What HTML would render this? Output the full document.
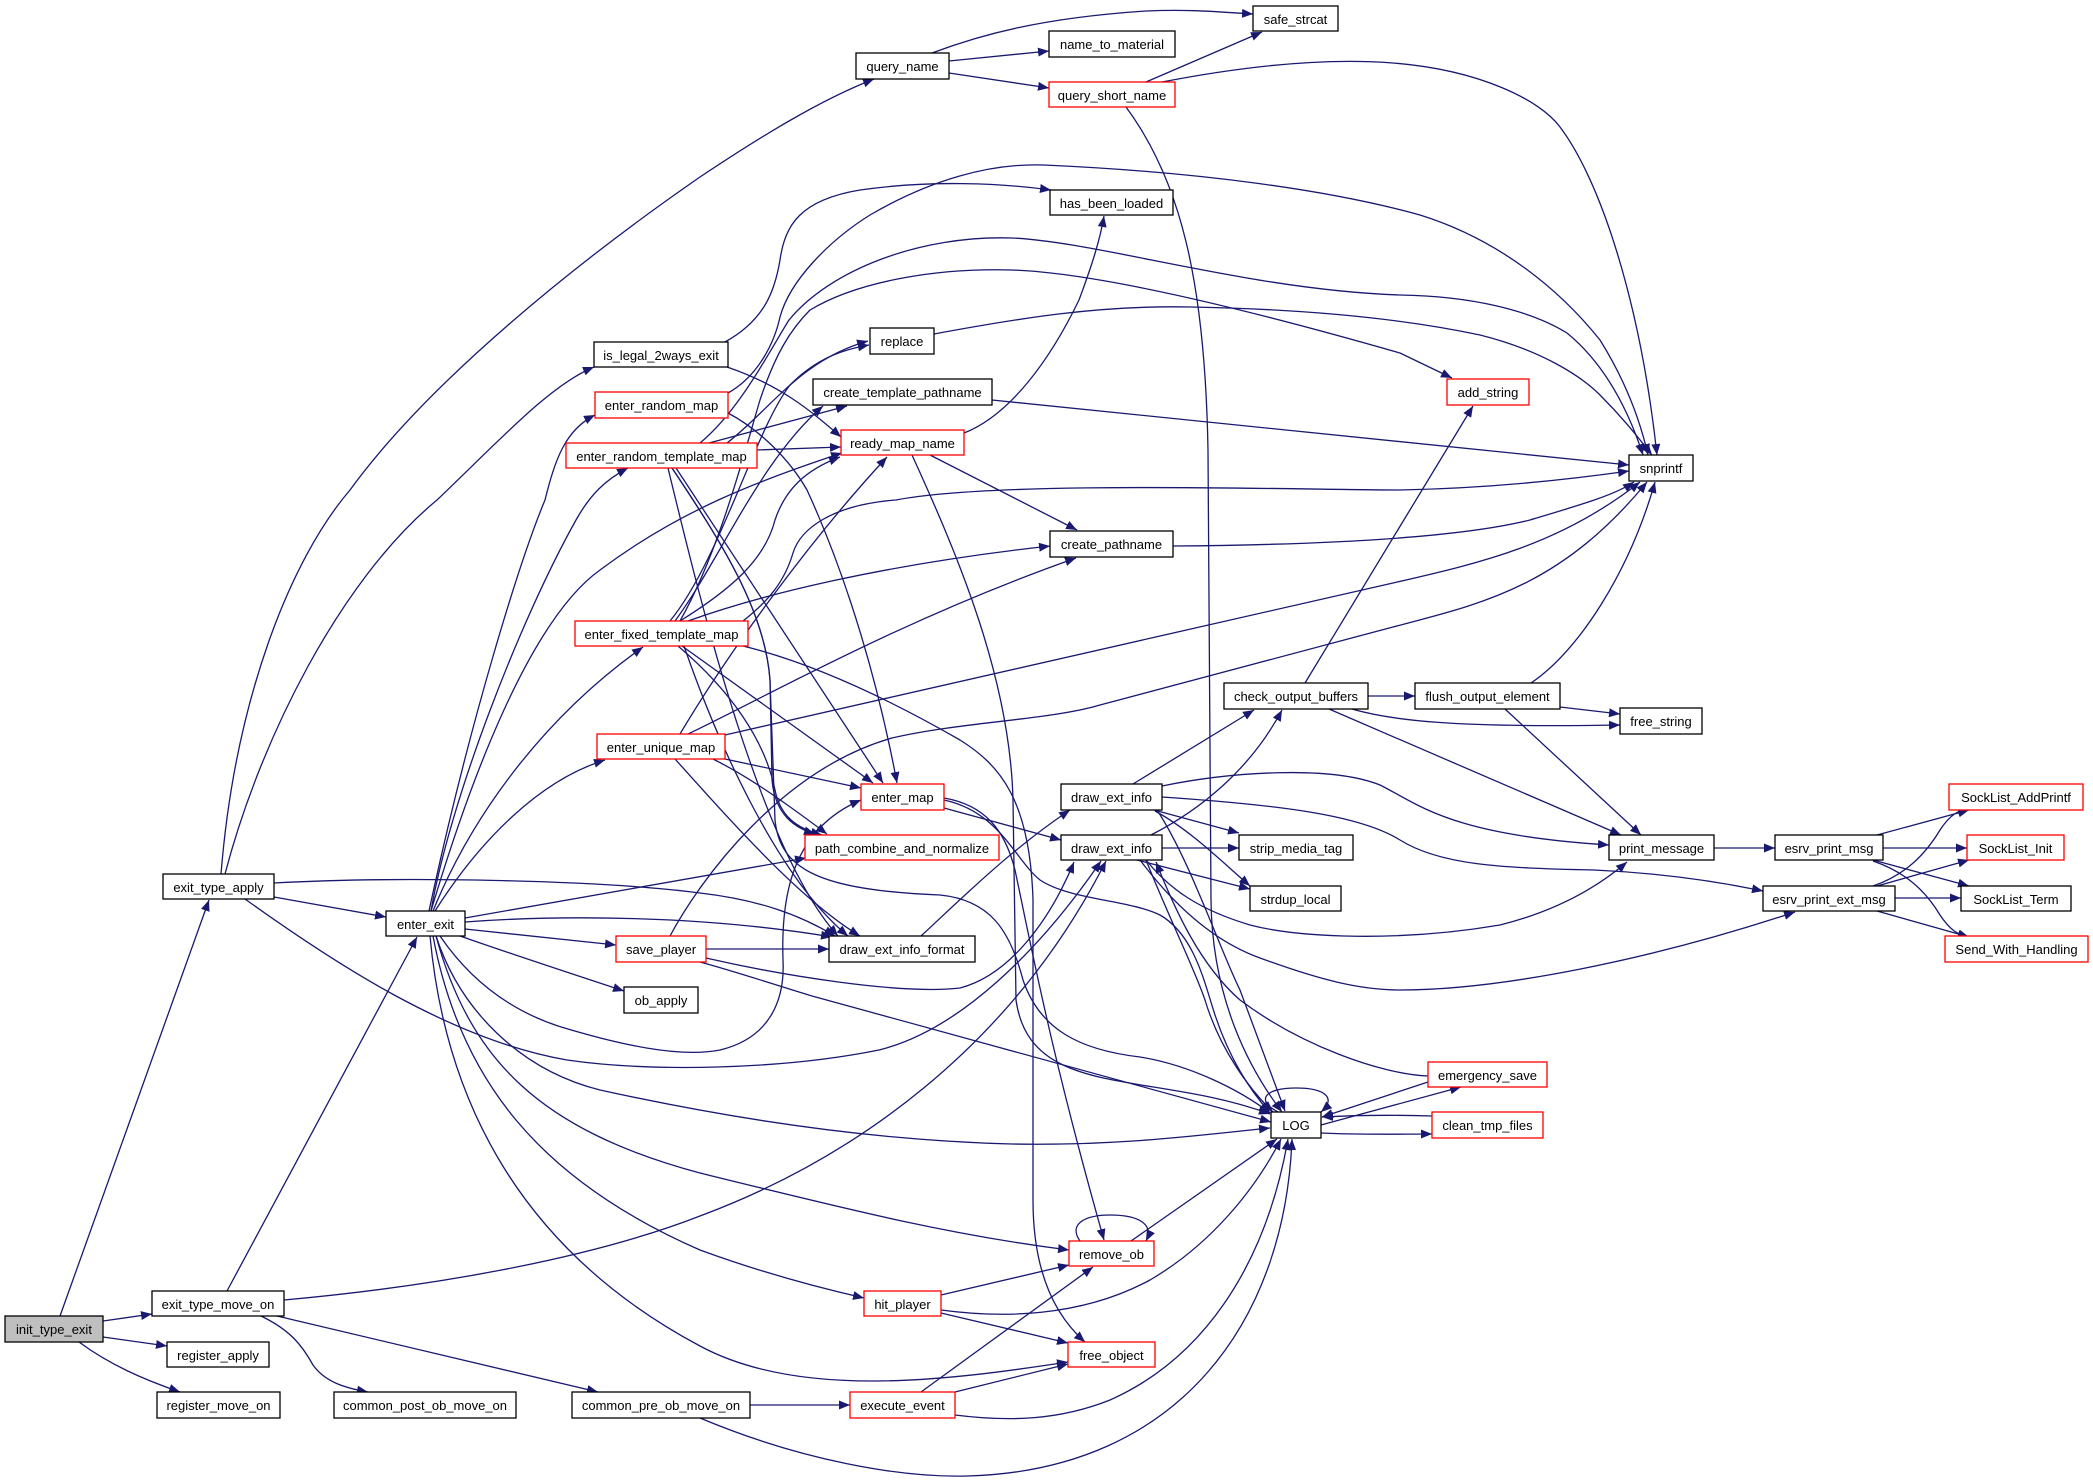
<!DOCTYPE html>
<html>
<head>
<meta charset="utf-8">
<style>
html,body{margin:0;padding:0;background:#fff;}
svg{display:block;}
text{font-family:"Liberation Sans",Arial,sans-serif;font-size:13px;fill:#000;text-anchor:middle;}
.e{fill:none;stroke:#191970;stroke-width:1.3;}
.n{fill:#fff;stroke:#000;stroke-width:1.3;}
.r{fill:#fff;stroke:#ff0000;stroke-width:1.3;}
</style>
</head>
<body>
<svg width="2093" height="1483" viewBox="0 0 2093 1483" xmlns="http://www.w3.org/2000/svg">
<defs>
<marker id="a" markerUnits="userSpaceOnUse" markerWidth="12" markerHeight="9" refX="11" refY="4.5" orient="auto">
<path d="M0,0 L11,4.5 L0,9 z" fill="#191970"/>
</marker>
</defs>
<g marker-end="url(#a)">
<path class="e" d="M60,1316 L209,900"/>
<path class="e" d="M103,1321 L152,1314"/>
<path class="e" d="M103,1337 L167,1346"/>
<path class="e" d="M79,1342 C110,1365 145,1380 180,1392"/>
<path class="e" d="M227,1291 L417,937"/>
<path class="e" d="M284,1300 C450,1285 600,1255 700,1216 C850,1160 1010,1050 1106,861"/>
<path class="e" d="M261,1316 C290,1330 302,1345 313,1365 C325,1382 345,1388 368,1392"/>
<path class="e" d="M277,1316 L598,1392"/>
<path class="e" d="M750,1405 L850,1405"/>
<path class="e" d="M700,1418 C800,1460 900,1478 968,1476 C1180,1470 1285,1320 1292,1139"/>
<path class="e" d="M955,1392 L1068,1364"/>
<path class="e" d="M921,1392 L1093,1267"/>
<path class="e" d="M955,1415 C1010,1422 1060,1420 1110,1400 C1200,1360 1265,1270 1288,1139"/>
<path class="e" d="M941,1295 L1069,1265"/>
<path class="e" d="M941,1313 L1068,1343"/>
<path class="e" d="M941,1310 C1000,1318 1080,1318 1150,1280 C1210,1245 1255,1190 1281,1139"/>
<path class="e" d="M1080,1241 C1068,1224 1085,1215 1110,1215 C1140,1215 1154,1225 1146,1241"/>
<path class="e" d="M1131,1241 L1277,1139"/>
<path class="e" d="M1278,1112 C1255,1100 1265,1088 1296,1088 C1325,1088 1337,1098 1321,1112"/>
<path class="e" d="M1321,1125 L1461,1087"/>
<path class="e" d="M1428,1082 L1322,1117"/>
<path class="e" d="M1321,1133 C1360,1135 1400,1134 1432,1134"/>
<path class="e" d="M1432,1116 C1400,1115 1360,1115 1322,1117"/>
<path class="e" d="M1428,1076 C1380,1074 1300,1045 1240,1000 C1200,965 1175,910 1156,862"/>
<path class="e" d="M460,936 C500,950 560,970 624,991"/>
<path class="e" d="M274,897 L386,917"/>
<path class="e" d="M221,874 C235,700 290,560 350,490 C430,380 580,260 700,177 C760,137 820,100 874,79"/>
<path class="e" d="M225,874 C260,740 340,580 437,500 C500,440 550,385 594,367"/>
<path class="e" d="M274,883 C400,876 600,880 700,893 C760,900 800,915 835,936"/>
<path class="e" d="M245,899 C330,960 450,1040 567,1060 C650,1072 780,1070 879,1050 C960,1030 1040,950 1101,861"/>
<path class="e" d="M429,911 C470,720 520,560 545,500 C555,460 565,430 595,415"/>
<path class="e" d="M431,911 C450,800 520,620 576,520 C590,495 605,480 628,468"/>
<path class="e" d="M433,911 C470,820 540,720 643,647"/>
<path class="e" d="M435,911 C480,840 540,780 605,760"/>
<path class="e" d="M431,911 C470,780 530,620 600,570 C680,510 760,480 842,453"/>
<path class="e" d="M465,918 L806,858"/>
<path class="e" d="M465,922 C560,915 700,915 832,937"/>
<path class="e" d="M465,929 L616,945"/>
<path class="e" d="M440,936 C470,980 510,1010 558,1026 C620,1045 680,1058 720,1050 C770,1038 785,1000 783,960 C781,900 790,830 861,800"/>
<path class="e" d="M436,936 C460,1010 520,1070 600,1090 C700,1112 850,1140 1012,1144 C1120,1146 1200,1135 1270,1128"/>
<path class="e" d="M436,936 C470,1060 540,1130 700,1173 C850,1210 950,1235 1069,1250"/>
<path class="e" d="M433,936 C460,1080 540,1180 700,1250 C760,1272 820,1288 864,1298"/>
<path class="e" d="M430,936 C445,1100 520,1250 700,1346 C800,1400 950,1380 1068,1362"/>
<path class="e" d="M725,342 C765,320 775,290 780,260 C785,225 800,200 860,190 C930,180 1000,183 1051,190"/>
<path class="e" d="M727,367 C780,385 810,410 841,437"/>
<path class="e" d="M728,393 C760,375 775,340 780,317 C790,280 830,240 870,215 C930,180 990,163 1044,165 C1200,172 1330,190 1420,215 C1500,240 1560,290 1600,340 C1625,380 1640,420 1648,455"/>
<path class="e" d="M700,443 C740,410 770,350 789,320 C830,270 920,235 1012,238 C1100,242 1250,290 1400,295 C1470,296 1530,310 1567,333 C1600,360 1625,400 1643,455"/>
<path class="e" d="M680,621 C720,550 745,450 760,400 C775,355 790,330 810,310 C860,280 940,268 1012,270 C1100,273 1250,310 1400,353 L1452,378"/>
<path class="e" d="M934,334 C1020,318 1100,305 1191,307 C1300,309 1400,318 1480,335 C1540,350 1580,375 1600,395 C1625,420 1640,440 1652,455"/>
<path class="e" d="M992,400 L1629,465"/>
<path class="e" d="M743,621 C770,600 785,580 793,553 C800,530 830,505 896,500 C1000,480 1300,490 1400,490 C1500,488 1580,478 1629,471"/>
<path class="e" d="M725,735 L1393,583 C1480,563 1560,545 1640,482"/>
<path class="e" d="M670,936 C700,880 780,770 892,738 C960,722 1050,720 1100,705 L1393,627 C1480,604 1560,588 1647,482"/>
<path class="e" d="M1173,546 C1300,545 1450,540 1530,520 C1580,505 1615,495 1634,482"/>
<path class="e" d="M1531,683 C1580,650 1630,570 1655,482"/>
<path class="e" d="M1162,82 C1250,65 1330,58 1393,63 C1480,70 1540,100 1560,127 C1600,180 1640,300 1657,455"/>
<path class="e" d="M932,53 C980,35 1040,18 1146,11 C1190,9 1220,12 1253,14"/>
<path class="e" d="M949,61 L1049,51"/>
<path class="e" d="M949,73 L1049,88"/>
<path class="e" d="M1146,82 L1262,32"/>
<path class="e" d="M1126,107 C1180,180 1205,280 1208,450 L1211,900 C1212,1000 1250,1070 1282,1112"/>
<path class="e" d="M964,433 C1010,415 1050,360 1079,300 C1092,265 1100,240 1104,216"/>
<path class="e" d="M930,455 L1077,530"/>
<path class="e" d="M912,455 C960,560 1010,680 1013,800 L1016,1000 C1030,1100 1150,1070 1270,1114"/>
<path class="e" d="M727,443 C770,410 800,360 868,341"/>
<path class="e" d="M670,621 C720,560 755,430 790,385 C815,360 840,350 869,345"/>
<path class="e" d="M709,443 L847,406"/>
<path class="e" d="M675,621 C720,560 760,460 823,406"/>
<path class="e" d="M757,450 L841,447"/>
<path class="e" d="M680,621 C730,590 765,560 775,520 C785,490 805,470 840,457"/>
<path class="e" d="M680,734 C730,650 810,540 887,457"/>
<path class="e" d="M728,413 C760,430 790,460 807,490 C830,540 870,640 897,783"/>
<path class="e" d="M676,468 L883,783"/>
<path class="e" d="M682,646 L873,783"/>
<path class="e" d="M725,759 L861,788"/>
<path class="e" d="M672,468 C720,540 765,610 770,680 L772,780 C775,815 795,828 815,834"/>
<path class="e" d="M678,646 C730,690 765,740 775,790 C780,815 795,828 822,835"/>
<path class="e" d="M713,759 C745,775 775,795 827,834"/>
<path class="e" d="M684,646 C720,750 780,880 848,936"/>
<path class="e" d="M675,759 C730,820 800,900 860,936"/>
<path class="e" d="M668,468 C700,600 760,850 838,936"/>
<path class="e" d="M688,621 C760,595 880,565 1050,546"/>
<path class="e" d="M688,734 C760,700 900,620 1076,558"/>
<path class="e" d="M743,646 C800,660 873,690 960,740 C1000,765 1030,800 1033,900 L1033,1200 C1033,1280 1060,1320 1085,1342"/>
<path class="e" d="M944,798 C985,805 1005,830 1015,870 C1030,940 1050,1050 1104,1240"/>
<path class="e" d="M944,800 C1000,812 1015,860 1040,880 C1070,900 1130,900 1160,915 C1195,935 1205,985 1215,1015 C1230,1060 1250,1090 1270,1113"/>
<path class="e" d="M672,468 C720,540 765,610 770,680 L775,820 C780,870 820,890 940,895 C990,900 1010,930 1023,980 C1040,1030 1080,1050 1140,1057 C1190,1065 1240,1090 1270,1113"/>
<path class="e" d="M944,808 L1061,840"/>
<path class="e" d="M921,936 C960,900 1010,850 1070,810"/>
<path class="e" d="M706,949 L829,949"/>
<path class="e" d="M700,962 C730,970 760,980 812,996 L1271,1122"/>
<path class="e" d="M706,958 C780,975 900,995 960,988 C1010,975 1050,920 1074,862"/>
<path class="e" d="M1133,784 L1254,710"/>
<path class="e" d="M1154,810 L1239,833"/>
<path class="e" d="M1155,811 C1190,830 1220,860 1250,886"/>
<path class="e" d="M1157,810 C1190,860 1220,950 1240,990 L1285,1111"/>
<path class="e" d="M1162,786 C1230,772 1330,765 1380,785 C1420,805 1450,835 1609,845"/>
<path class="e" d="M1162,797 C1280,805 1360,815 1400,840 C1440,865 1500,868 1594,870 C1660,873 1720,882 1763,891"/>
<path class="e" d="M1162,848 L1239,848"/>
<path class="e" d="M1151,835 C1200,810 1250,770 1282,710"/>
<path class="e" d="M1137,860 L1250,889"/>
<path class="e" d="M1146,860 C1170,890 1200,910 1250,925 C1300,938 1400,942 1500,925 C1560,910 1600,885 1627,862"/>
<path class="e" d="M1140,860 C1170,900 1210,940 1260,958 C1320,980 1360,990 1400,990 C1500,990 1650,960 1795,912"/>
<path class="e" d="M1146,860 C1170,920 1195,970 1205,1000 C1220,1050 1250,1090 1273,1112"/>
<path class="e" d="M1368,696 L1415,696"/>
<path class="e" d="M1305,683 L1473,406"/>
<path class="e" d="M1352,709 C1390,720 1450,728 1620,725"/>
<path class="e" d="M1329,709 L1621,835"/>
<path class="e" d="M1560,707 L1620,714"/>
<path class="e" d="M1505,709 L1641,835"/>
<path class="e" d="M1714,848 L1775,848"/>
<path class="e" d="M1877,835 L1969,810"/>
<path class="e" d="M1883,848 L1967,848"/>
<path class="e" d="M1873,860 L1969,886"/>
<path class="e" d="M1873,861 C1905,872 1925,890 1940,915 C1950,930 1958,935 1969,937"/>
<path class="e" d="M1873,886 C1905,875 1925,855 1940,830 C1950,815 1958,810 1969,809"/>
<path class="e" d="M1877,886 L1969,860"/>
<path class="e" d="M1895,898 L1961,898"/>
<path class="e" d="M1877,911 L1969,937"/>
</g>

<!-- nodes -->
<rect x="5" y="1316" width="98" height="26" fill="#bfbfbf" stroke="#000" stroke-width="1.3"/><text x="54" y="1334">init_type_exit</text>
<rect class="n" x="163" y="874" width="111" height="25"/><text x="218.5" y="892">exit_type_apply</text>
<rect class="n" x="152" y="1291" width="132" height="25"/><text x="218" y="1309">exit_type_move_on</text>
<rect class="n" x="167" y="1342" width="102" height="25"/><text x="218" y="1360">register_apply</text>
<rect class="n" x="157" y="1392" width="123" height="26"/><text x="218.5" y="1410">register_move_on</text>
<rect class="n" x="334" y="1392" width="182" height="26"/><text x="425" y="1410">common_post_ob_move_on</text>
<rect class="n" x="572" y="1392" width="178" height="26"/><text x="661" y="1410">common_pre_ob_move_on</text>
<rect class="n" x="386" y="911" width="79" height="25"/><text x="425.5" y="929">enter_exit</text>
<rect class="n" x="594" y="342" width="134" height="25"/><text x="661" y="360">is_legal_2ways_exit</text>
<rect class="r" x="595" y="392" width="133" height="26"/><text x="661.5" y="410">enter_random_map</text>
<rect class="r" x="566" y="443" width="191" height="25"/><text x="661.5" y="461">enter_random_template_map</text>
<rect class="r" x="575" y="621" width="173" height="25"/><text x="661.5" y="639">enter_fixed_template_map</text>
<rect class="r" x="597" y="734" width="128" height="25"/><text x="661" y="752">enter_unique_map</text>
<rect class="r" x="616" y="936" width="90" height="26"/><text x="661" y="954">save_player</text>
<rect class="n" x="624" y="987" width="74" height="26"/><text x="661" y="1005">ob_apply</text>
<rect class="n" x="856" y="53" width="93" height="26"/><text x="902.5" y="71">query_name</text>
<rect class="n" x="1049" y="31" width="126" height="26"/><text x="1112" y="49">name_to_material</text>
<rect class="n" x="1253" y="6" width="85" height="25"/><text x="1295.5" y="24">safe_strcat</text>
<rect class="r" x="1049" y="82" width="126" height="25"/><text x="1112" y="100">query_short_name</text>
<rect class="n" x="1050" y="190" width="123" height="25"/><text x="1111.5" y="208">has_been_loaded</text>
<rect class="n" x="870" y="328" width="64" height="26"/><text x="902" y="346">replace</text>
<rect class="n" x="813" y="379" width="179" height="26"/><text x="902.5" y="397">create_template_pathname</text>
<rect class="r" x="841" y="430" width="123" height="25"/><text x="902.5" y="448">ready_map_name</text>
<rect class="r" x="1447" y="379" width="82" height="26"/><text x="1488" y="397">add_string</text>
<rect class="n" x="1629" y="455" width="64" height="26"/><text x="1661" y="473">snprintf</text>
<rect class="n" x="1050" y="531" width="123" height="26"/><text x="1111.5" y="549">create_pathname</text>
<rect class="n" x="1224" y="683" width="144" height="26"/><text x="1296" y="701">check_output_buffers</text>
<rect class="n" x="1415" y="683" width="145" height="26"/><text x="1487.5" y="701">flush_output_element</text>
<rect class="n" x="1620" y="708" width="82" height="26"/><text x="1661" y="726">free_string</text>
<rect class="r" x="861" y="784" width="83" height="26"/><text x="902.5" y="802">enter_map</text>
<rect class="n" x="1061" y="784" width="101" height="26"/><text x="1111.5" y="802">draw_ext_info</text>
<rect class="r" x="805" y="835" width="194" height="25"/><text x="902" y="853">path_combine_and_normalize</text>
<rect class="n" x="1061" y="835" width="101" height="25"/><text x="1111.5" y="853">draw_ext_info</text>
<rect class="n" x="1239" y="835" width="114" height="25"/><text x="1296" y="853">strip_media_tag</text>
<rect class="n" x="1250" y="886" width="91" height="25"/><text x="1295.5" y="904">strdup_local</text>
<rect class="n" x="829" y="936" width="146" height="26"/><text x="902" y="954">draw_ext_info_format</text>
<rect class="n" x="1609" y="835" width="105" height="25"/><text x="1661.5" y="853">print_message</text>
<rect class="n" x="1775" y="835" width="108" height="25"/><text x="1829" y="853">esrv_print_msg</text>
<rect class="n" x="1763" y="886" width="132" height="25"/><text x="1829" y="904">esrv_print_ext_msg</text>
<rect class="r" x="1949" y="784" width="134" height="26"/><text x="2016" y="802">SockList_AddPrintf</text>
<rect class="r" x="1967" y="835" width="97" height="25"/><text x="2015.5" y="853">SockList_Init</text>
<rect class="n" x="1961" y="886" width="110" height="25"/><text x="2016" y="904">SockList_Term</text>
<rect class="r" x="1945" y="936" width="143" height="26"/><text x="2016.5" y="954">Send_With_Handling</text>
<rect class="n" x="1271" y="1112" width="50" height="26"/><text x="1296" y="1130">LOG</text>
<rect class="r" x="1428" y="1062" width="119" height="25"/><text x="1487.5" y="1080">emergency_save</text>
<rect class="r" x="1432" y="1112" width="111" height="26"/><text x="1487.5" y="1130">clean_tmp_files</text>
<rect class="r" x="1069" y="1241" width="85" height="25"/><text x="1111.5" y="1259">remove_ob</text>
<rect class="r" x="864" y="1291" width="77" height="25"/><text x="902.5" y="1309">hit_player</text>
<rect class="r" x="1068" y="1342" width="87" height="25"/><text x="1111.5" y="1360">free_object</text>
<rect class="r" x="850" y="1392" width="105" height="26"/><text x="902.5" y="1410">execute_event</text>
</svg>
</body>
</html>
